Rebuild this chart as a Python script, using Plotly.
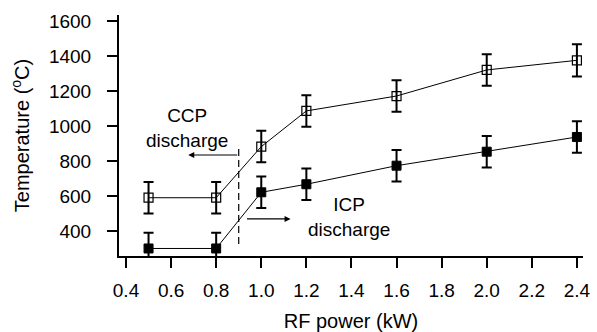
import plotly.graph_objects as go

rf_power = [0.5, 0.8, 1.0, 1.2, 1.6, 2.0, 2.4]
ccp_temp = [590, 590, 882, 1086, 1171, 1320, 1375]
ccp_err = [90, 90, 90, 90, 90, 90, 92]
icp_temp = [300, 300, 621, 667, 773, 853, 937]
icp_err = [90, 90, 90, 90, 90, 90, 90]

x_ticks = [0.4, 0.6, 0.8, 1.0, 1.2, 1.4, 1.6, 1.8, 2.0, 2.2, 2.4]
y_ticks = [400, 600, 800, 1000, 1200, 1400, 1600]

font_family = "Liberation Sans, Arial, sans-serif"
black = "black"

fig = go.Figure()
fig.add_trace(go.Scatter(
    x=rf_power, y=icp_temp, mode="lines+markers",
    line=dict(color=black, width=1),
    marker=dict(symbol="square", size=9, color=black, line=dict(color=black, width=1)),
    error_y=dict(type="data", array=icp_err, color=black, thickness=2, width=5),
    showlegend=False,
))
fig.add_trace(go.Scatter(
    x=rf_power, y=ccp_temp, mode="lines+markers",
    line=dict(color=black, width=1),
    marker=dict(symbol="square-open", size=9, color=black, line=dict(color=black, width=1.2)),
    error_y=dict(type="data", array=ccp_err, color=black, thickness=2, width=5),
    showlegend=False,
))

# dashed boundary line
fig.add_shape(type="line", x0=0.9, x1=0.9, y0=325, y1=885, xref="x", yref="y",
              line=dict(color=black, width=1.2, dash="7px,4px"))

# arrows
fig.add_annotation(x=0.676, y=834, ax=0.9, ay=834, xref="x", yref="y", axref="x", ayref="y",
                   showarrow=True, arrowhead=2, arrowsize=1, arrowwidth=1.2, arrowcolor=black, text="")
fig.add_annotation(x=1.13, y=469, ax=0.93, ay=469, xref="x", yref="y", axref="x", ayref="y",
                   showarrow=True, arrowhead=2, arrowsize=1, arrowwidth=1.2, arrowcolor=black, text="")

fig.add_annotation(x=0.67, y=990, xref="x", yref="y", text="CCP<br>discharge", showarrow=False,
                   font=dict(family=font_family, size=19, color=black), align="center")
fig.add_annotation(x=1.39, y=480, xref="x", yref="y", text="ICP<br>discharge", showarrow=False,
                   font=dict(family=font_family, size=19, color=black), align="center")

fig.update_layout(
    width=597, height=332,
    margin=dict(l=119, r=14, t=15, b=76),
    paper_bgcolor="white", plot_bgcolor="white",
    font=dict(family=font_family, size=19, color=black),
    xaxis=dict(
        range=[0.369, 2.427], tickvals=x_ticks, tickformat=".1f",
        tickfont=dict(family=font_family, size=19, color=black),
        showline=True, linecolor=black, linewidth=2, mirror=False,
        ticks="outside", ticklen=10, tickwidth=2, tickcolor=black,
        ticklabelstandoff=6, automargin=False,
        showgrid=False, zeroline=False,
        title=dict(text="RF power (kW)", font=dict(family=font_family, size=20, color=black), standoff=14),
    ),
    yaxis=dict(
        range=[257, 1634], tickvals=y_ticks,
        tickfont=dict(family=font_family, size=19, color=black),
        showline=True, linecolor=black, linewidth=2, mirror=False,
        ticks="outside", ticklen=10, tickwidth=2, tickcolor=black,
        ticklabelstandoff=12, automargin=False,
        showgrid=False, zeroline=False,
        title=dict(text="Temperature (<sup>o</sup>C)", font=dict(family=font_family, size=20, color=black), standoff=14),
    ),
)

fig.write_html("out.html")
